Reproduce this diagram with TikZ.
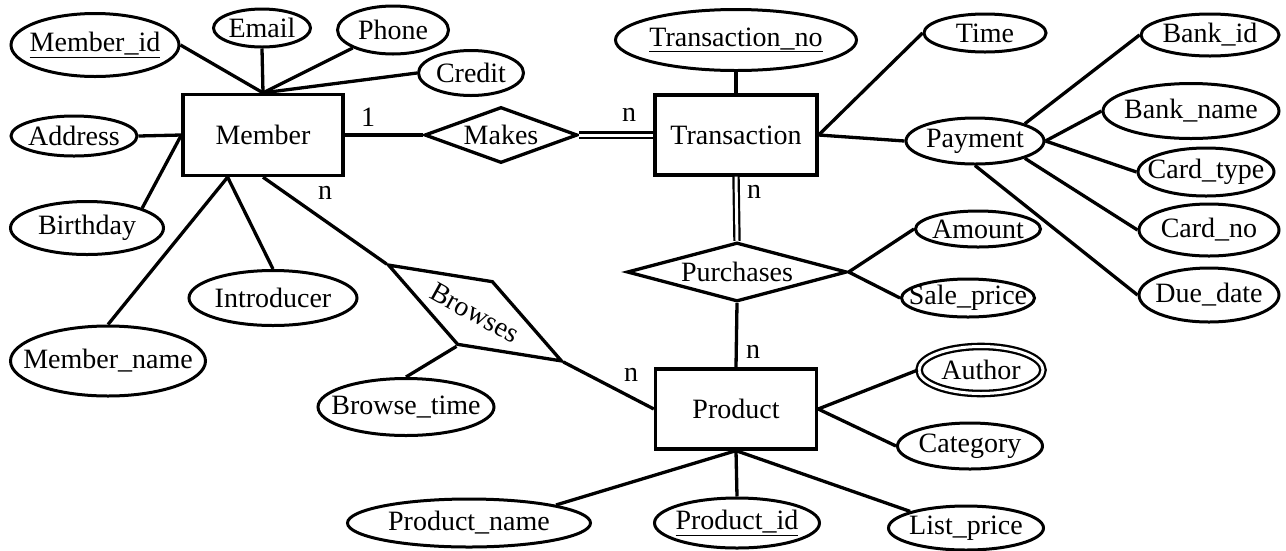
\documentclass[tikz,border=0pt]{standalone}
\usepackage{fontspec}
\setmainfont{Liberation Serif}
\usetikzlibrary{shapes.geometric}

\newcommand{\ename}[1]{\makebox[0pt]{#1}}

\tikzset{
    entity/.style={draw, rectangle, line width=3.3pt, inner sep=0pt},
    attr/.style={draw, ellipse, line width=3pt, inner sep=0pt},
    multiattr/.style={draw, ellipse, double, double distance=3pt, line width=2.3pt, inner sep=0pt},
    rel/.style={draw, diamond, line width=3.3pt, inner sep=0pt},
    link/.style={line width=3.3pt},
    total/.style={double, double distance=3pt, line width=2.2pt},
}

\begin{document}
\begin{tikzpicture}[x=1pt, y=-1pt, font=\fontsize{28}{33}\selectfont]
    \useasboundingbox (0, 0) rectangle (1286, 550);

    % entities and relationships
    \node[entity, minimum width=160, minimum height=81] (member) at (263, 135) {Member};
    \node[entity, minimum width=162, minimum height=80] (transaction) at (736, 135) {Transaction};
    \node[entity, minimum width=161, minimum height=80] (product) at (736, 409) {Product};
    \node[rel, minimum width=153, minimum height=56, shape aspect=2.7] (makes) at (501, 135) {Makes};
    \node[rel, minimum width=220, minimum height=59, shape aspect=3.7] (purchases) at (737, 272) {Purchases};
    \node[rel, minimum width=199, minimum height=73, shape aspect=2.7, rotate=-29] (browses) at (475, 313) {Browses};

    % attributes of Member
    \node[attr, minimum width=168, minimum height=63] (memberid) at (95, 45) {\ename{\underline{Member\_id}}};
    \node[attr, minimum width=97, minimum height=38] (email) at (262, 28) {\ename{Email}};
    \node[attr, minimum width=111, minimum height=48] (phone) at (393, 30) {\ename{Phone}};
    \node[attr, minimum width=105, minimum height=45] (credit) at (471, 73) {\ename{Credit}};
    \node[attr, minimum width=126, minimum height=40] (address) at (74, 136) {\ename{Address}};
    \node[attr, minimum width=153, minimum height=53] (birthday) at (87, 228) {\ename{Birthday}};
    \node[attr, minimum width=195, minimum height=70] (membername) at (108, 361) {\ename{Member\_name}};
    \node[attr, minimum width=168, minimum height=55] (introducer) at (273, 298) {\ename{Introducer}};
    \node[attr, minimum width=176, minimum height=57] (browsetime) at (406, 407) {\ename{Browse\_time}};

    % attributes of Transaction
    \node[attr, minimum width=241, minimum height=61] (transno) at (736, 40) {\ename{\underline{Transaction\_no}}};
    \node[attr, minimum width=122, minimum height=38] (time) at (985, 33) {\ename{Time}};
    \node[attr, minimum width=138, minimum height=46] (payment) at (975, 141) {\ename{Payment}};
    \node[attr, minimum width=138, minimum height=42] (bankid) at (1210, 35) {\ename{Bank\_id}};
    \node[attr, minimum width=176, minimum height=55] (bankname) at (1191, 111) {\ename{Bank\_name}};
    \node[attr, minimum width=136, minimum height=48] (cardtype) at (1206, 172) {\ename{Card\_type}};
    \node[attr, minimum width=140, minimum height=52] (cardno) at (1209, 230) {\ename{Card\_no}};
    \node[attr, minimum width=140, minimum height=54] (duedate) at (1209, 295) {\ename{Due\_date}};
    \node[attr, minimum width=125, minimum height=36] (amount) at (978, 229) {\ename{Amount}};
    \node[attr, minimum width=133, minimum height=38] (saleprice) at (968, 298) {\ename{Sale\_price}};

    % attributes of Product
    \node[multiattr, minimum width=124, minimum height=47] (author) at (981, 370) {\ename{Author}};
    \node[attr, minimum width=145, minimum height=46] (category) at (970, 446) {\ename{Category}};
    \node[attr, minimum width=243, minimum height=48] (productname) at (469, 523) {\ename{Product\_name}};
    \node[attr, minimum width=165, minimum height=50] (productid) at (737, 523) {\ename{\underline{Product\_id}}};
    \node[attr, minimum width=155, minimum height=44] (listprice) at (966, 528) {\ename{List\_price}};

    % cardinalities
    \node (card1) at (368, 117) {1};
    \node (cardn1) at (629, 115) {n};
    \node (cardn2) at (754, 192) {n};
    \node (cardn3) at (753, 352) {n};
    \node (cardn4) at (325, 193) {n};
    \node (cardn5) at (631, 375) {n};

    % connectors
    \draw[link] (member.north) -- (memberid.east);
    \draw[link] (member.north) -- (email.south);
    \draw[link] (member.north) -- (phone.south west);
    \draw[link] (member.north) -- (credit.west);
    \draw[link] (address.east) -- (member.west);
    \draw[link] (member.west) -- (birthday.north east);
    \draw[link] (member.230) -- (membername.north);
    \draw[link] (member.230) -- (introducer.north);
    \draw[link] (member.south) -- (browses.west);
    \draw[link] (browses.south) -- (browsetime.north);
    \draw[link] (browses.east) -- (product.west);
    \draw[link] (member.east) -- (makes.west);
    \draw[total] (makes.east) -- (transaction.west);
    \draw[link] (transaction.north) -- (transno.south);
    \draw[link] (transaction.east) -- (time.west);
    \draw[link] (transaction.east) -- (payment.west);
    \draw[total] (transaction.south) -- (purchases.north);
    \draw[link] (purchases.south) -- (product.north);
    \draw[link] (purchases.east) -- (amount.west);
    \draw[link] (purchases.east) -- (saleprice.west);
    \draw[link] (payment.north east) -- (bankid.west);
    \draw[link] (payment.east) -- (bankname.west);
    \draw[link] (payment.east) -- (cardtype.west);
    \draw[link] (payment.south east) -- (cardno.west);
    \draw[link] (payment.south) -- (duedate.west);
    \draw[link] (product.east) -- (author.west);
    \draw[link] (product.east) -- (category.west);
    \draw[link] (product.south) -- (productname.north east);
    \draw[link] (product.south) -- (productid.north);
    \draw[link] (product.south) -- (listprice.north west);
\end{tikzpicture}
\end{document}
